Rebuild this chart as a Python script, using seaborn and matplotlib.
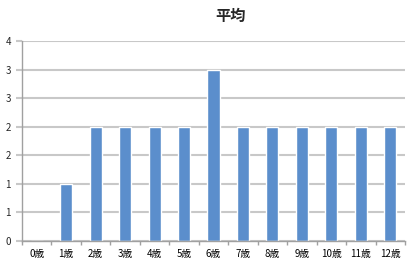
import matplotlib
matplotlib.use("Agg")
import matplotlib.pyplot as plt
import seaborn as sns
import pandas as pd
import numpy as np

categories = ["0歳", "1歳", "2歳", "3歳", "4歳", "5歳", "6歳", "7歳", "8歳", "9歳", "10歳", "11歳", "12歳"]
values = [0, 1.14, 2.29, 2.29, 2.29, 2.29, 3.43, 2.29, 2.29, 2.29, 2.29, 2.29, 2.29]
title = "平均"
ymax = 4
n_intervals = 7

sns.set_theme(style="white")
plt.rcParams['font.family'] = ['Noto Sans CJK JP', 'DejaVu Sans']

df = pd.DataFrame({"cat": categories, "val": values})

fig = plt.figure(figsize=(4.2, 2.65), dpi=100)
ax = fig.add_axes([22/420, 24/265, (405-22)/420, 200/265])
sns.barplot(data=df, x="cat", y="val", color="#5b8ecc", width=0.41, ax=ax, saturation=1)

ax.set_xlim(-0.5, len(categories) - 0.5)
ax.set_ylim(0, ymax)
yt = np.linspace(0, ymax, n_intervals + 1)
ax.set_yticks(yt)
ax.set_yticklabels([f"{v:.0f}" for v in yt])
ax.yaxis.grid(True, color="#c8c8c8", linewidth=1.5)
ax.set_axisbelow(True)
ax.set_xlabel("")
ax.set_ylabel("")

for s in ["top", "right"]:
    ax.spines[s].set_visible(False)
for s in ["left", "bottom"]:
    ax.spines[s].set_color("#a0a0a0")
    ax.spines[s].set_linewidth(1.0)

ax.set_xticks(np.arange(-0.5, len(categories)), minor=True)
ax.tick_params(axis="x", which="major", length=0, labelsize=7, pad=6, colors="black")
ax.tick_params(axis="x", which="minor", length=3, color="#a0a0a0", width=1, direction="out", bottom=True)
ax.tick_params(axis="y", length=4, color="#c8c8c8", width=1.5, labelsize=7, pad=4, left=True)

fig.text(231/420, 1 - 16/265, title, ha="center", va="center", fontsize=11, fontweight="bold")

fig.savefig("out.png", dpi=100)
